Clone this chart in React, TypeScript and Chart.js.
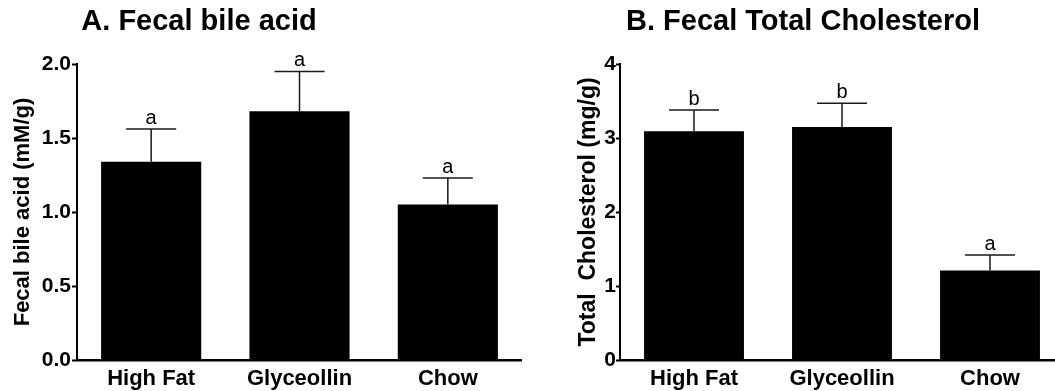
import React, { useEffect, useRef } from "react";
import { Chart, registerables } from "chart.js";

Chart.register(...registerables);

const categories = ["High Fat", "Glyceollin", "Chow"];

const bileAcidMeans = [1.34, 1.68, 1.05];
const bileAcidSem = [0.22, 0.27, 0.18];
const bileAcidLetters = ["a", "a", "a"];

const cholMeans = [3.09, 3.15, 1.21];
const cholSem = [0.29, 0.32, 0.21];
const cholLetters = ["b", "b", "a"];

const FONT = "'Liberation Sans', Arial, Helvetica, sans-serif";

const errorBarPlugin = {
  id: "errorBars",
  afterDatasetsDraw(chart: any, _args: any, opts: any) {
    const { ctx } = chart;
    const meta = chart.getDatasetMeta(0);
    const y = chart.scales.y;
    ctx.save();
    ctx.strokeStyle = "#1a1a1a";
    ctx.lineWidth = 1.5;
    meta.data.forEach((bar: any, i: number) => {
      const mean = opts.means[i];
      const sem = opts.sem[i];
      const yTop = y.getPixelForValue(mean + sem);
      const yBar = y.getPixelForValue(mean);
      const half = bar.width / 4;
      ctx.beginPath();
      ctx.moveTo(bar.x, yBar);
      ctx.lineTo(bar.x, yTop);
      ctx.moveTo(bar.x - half, yTop);
      ctx.lineTo(bar.x + half, yTop);
      ctx.stroke();
      ctx.fillStyle = "#000";
      ctx.font = `20px ${FONT}`;
      ctx.textAlign = "center";
      ctx.textBaseline = "alphabetic";
      ctx.fillText(opts.letters[i], bar.x, yTop - 5);
    });
    ctx.fillStyle = "#000";
    ctx.font = `bold 29px ${FONT}`;
    ctx.textAlign = "center";
    ctx.textBaseline = "alphabetic";
    ctx.fillText(opts.title, opts.titleX, opts.titleY);
    ctx.restore();
  },
};

type PanelProps = {
  means: number[];
  sem: number[];
  letters: string[];
  title: string;
  titleX: number;
  yTitle: string;
  yTitleSize: number;
  yMax: number;
  yStep: number;
  decimals: number;
  yAxisWidth: number;
  padLeft: number;
  yTitlePad: number;
  tickLen: number;
  tickPad: number;
  width: number;
  left: number;
};

function Panel(p: PanelProps) {
  const ref = useRef<HTMLCanvasElement | null>(null);
  useEffect(() => {
    if (!ref.current) return;
    const chart = new Chart(ref.current, {
      type: "bar",
      data: {
        labels: categories,
        datasets: [
          {
            data: p.means,
            backgroundColor: "#000",
            borderWidth: 0,
            categoryPercentage: 1,
            barPercentage: 0.675,
          },
        ],
      },
      plugins: [errorBarPlugin],
      options: {
        animation: false,
        responsive: false,
        devicePixelRatio: 1,
        layout: { padding: { top: 64, left: p.padLeft, right: 0, bottom: 0 } },
        plugins: {
          legend: { display: false },
          tooltip: { enabled: false },
          title: { display: false },
          errorBars: {
            means: p.means,
            sem: p.sem,
            letters: p.letters,
            title: p.title,
            titleX: p.titleX,
            titleY: 30,
          },
        } as any,
        scales: {
          x: {
            type: "category",
            grid: { display: false, drawTicks: false },
            border: { display: true, color: "#000", width: 2.5 },
            ticks: {
              color: "#000",
              padding: 6,
              font: { family: FONT, size: 22, weight: "bold" },
              maxRotation: 0,
              autoSkip: false,
            },
            afterFit: (s: any) => {
              s.height = 31;
            },
          },
          y: {
            min: 0,
            max: p.yMax,
            grid: {
              drawOnChartArea: false,
              drawTicks: true,
              tickLength: p.tickLen,
              tickWidth: 2,
              tickColor: "#000",
            },
            border: { display: true, color: "#000", width: 2 },
            ticks: {
              stepSize: p.yStep,
              color: "#000",
              padding: p.tickPad,
              font: { family: FONT, size: 21, weight: "bold" },
              callback: (v: any) => Number(v).toFixed(p.decimals),
            },
            title: {
              display: true,
              text: p.yTitle,
              color: "#000",
              font: { family: FONT, size: p.yTitleSize, weight: "bold" },
              padding: { top: p.yTitlePad, bottom: 0 },
            },
            afterFit: (s: any) => {
              s.width = p.yAxisWidth;
            },
          },
        },
      } as any,
    });
    return () => chart.destroy();
  }, []);
  return (
    <div style={{ position: "absolute", left: p.left, top: 0, width: p.width, height: 391 }}>
      <canvas ref={ref} width={p.width} height={391} style={{ display: "block" }} />
    </div>
  );
}

export default function App() {
  return (
    <div
      style={{
        position: "fixed",
        left: 0,
        top: 0,
        width: 1055,
        height: 391,
        overflow: "hidden",
        background: "#fff",
      }}
    >
      <Panel
        means={bileAcidMeans}
        sem={bileAcidSem}
        letters={bileAcidLetters}
        title="A. Fecal bile acid"
        titleX={199}
        yTitle="Fecal bile acid (mM/g)"
        yTitleSize={22}
        yMax={2}
        yStep={0.5}
        decimals={1}
        yAxisWidth={77}
        padLeft={0}
        yTitlePad={10}
        tickLen={5}
        tickPad={1}
        width={522}
        left={0}
      />
      <Panel
        means={cholMeans}
        sem={cholSem}
        letters={cholLetters}
        title="B. Fecal Total Cholesterol"
        titleX={283}
        yTitle="Total  Cholesterol (mg/g)"
        yTitleSize={23}
        yMax={4}
        yStep={1}
        decimals={0}
        yAxisWidth={45}
        padLeft={55}
        yTitlePad={0}
        tickLen={4}
        tickPad={0}
        width={544}
        left={520}
      />
    </div>
  );
}
